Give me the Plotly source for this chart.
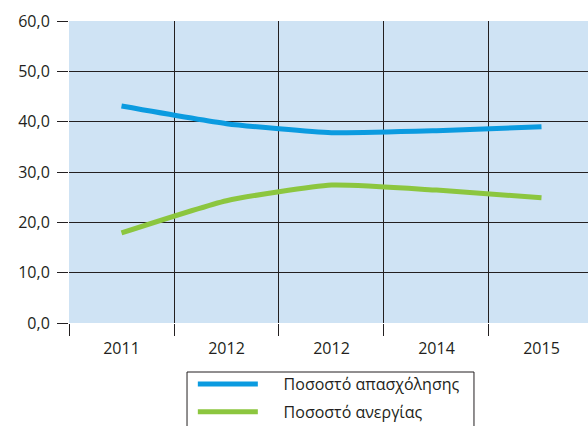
import plotly.graph_objects as go

years = ["2011", "2012", "2012", "2014", "2015"]
employment = [43.1, 39.6, 37.8, 38.2, 39.0]
unemployment = [17.9, 24.3, 27.4, 26.4, 24.9]
names = ["Ποσοστό απασχόλησης", "Ποσοστό ανεργίας"]

pos = list(range(len(years)))
pad = "\u00a0" * 5

fig = go.Figure()
fig.add_trace(go.Scatter(x=pos, y=employment, name=pad + names[0], mode="lines",
                         line=dict(color="#0b9be0", width=5, shape="spline", smoothing=0.5),
                         legendgroup="a"))
fig.add_trace(go.Scatter(x=pos, y=unemployment, name=pad + names[1], mode="lines",
                         line=dict(color="#8cc63f", width=5, shape="spline", smoothing=0.5),
                         legendgroup="b"))

# legend frame (runs off the bottom like in the original)
fig.add_shape(type="rect", xref="paper", yref="paper",
              x0=0.2274, x1=0.7803, y0=-0.40, y1=-0.1623,
              line=dict(color="#231f20", width=1), fillcolor="rgba(0,0,0,0)")

fig.update_layout(
    width=588, height=426,
    margin=dict(l=69, r=0, t=21, b=103, autoexpand=False),
    plot_bgcolor="#cfe3f4",
    paper_bgcolor="white",
    separators=",.",
    font=dict(family="Open Sans", size=16, color="#231f20"),
    legend=dict(x=0.2386, y=-0.1457, xanchor="left", yanchor="top",
                borderwidth=0, bgcolor="rgba(0,0,0,0)",
                traceorder="grouped", tracegroupgap=4, itemwidth=60,
                font=dict(size=16)),
)
fig.update_xaxes(
    range=[-0.5, 4.443], tickmode="array", tickvals=pos, ticktext=years,
    ticks="", showgrid=False, zeroline=False, showline=False,
    ticklabelstandoff=14,
    minor=dict(tickmode="array", tickvals=[-0.5, 0.5, 1.5, 2.5, 3.5],
               showgrid=True, gridcolor="#231f20", gridwidth=1,
               ticks="outside", ticklen=12, tickcolor="#231f20"),
)
fig.update_yaxes(
    range=[0, 60], dtick=10, tickformat=".1f",
    showgrid=True, gridcolor="#231f20", gridwidth=1,
    ticks="outside", ticklen=11, tickcolor="#231f20",
    ticklabelstandoff=4,
    zeroline=False, showline=False,
)

fig.write_html("out.html", config={"displayModeBar": False},
               post_script="document.body.style.margin='0';document.body.style.overflow='hidden';")
